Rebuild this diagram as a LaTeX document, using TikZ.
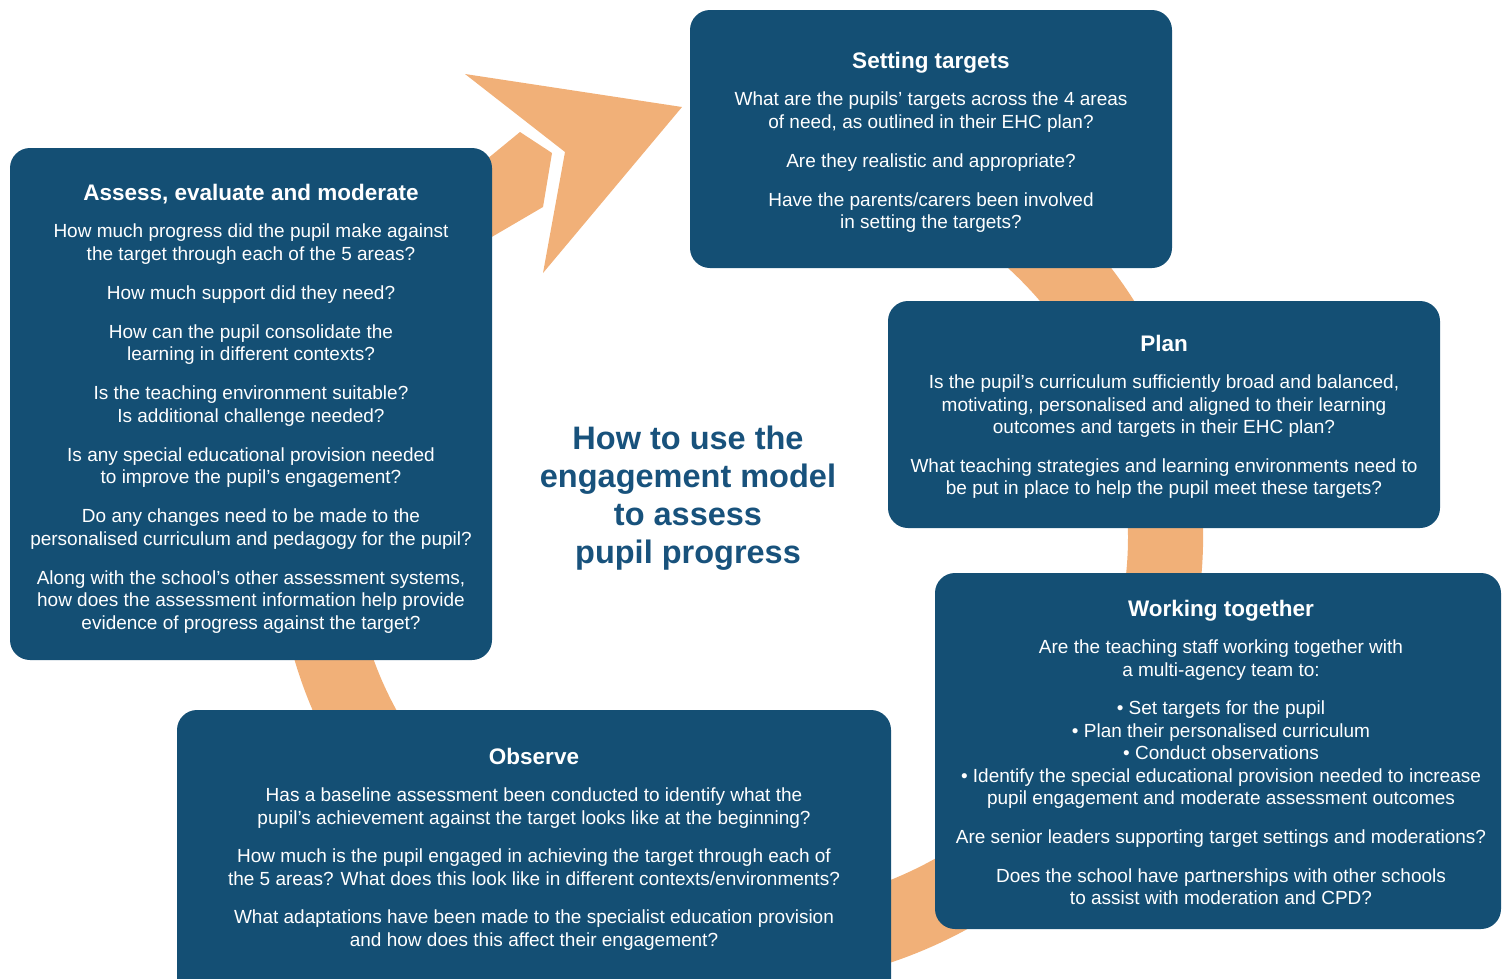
\documentclass[tikz,border=0pt]{standalone}
\usepackage{fontspec}
\setmainfont{Liberation Sans}
\usetikzlibrary{positioning,calc}

\definecolor{boxblue}{RGB}{20,79,116}
\definecolor{ringorange}{RGB}{241,176,120}
\definecolor{titleblue}{RGB}{24,82,124}
\newcommand{\hd}[1]{{\bfseries\fontsize{22.5}{24}\selectfont #1}}

\begin{document}
\begin{tikzpicture}
[x=1pt, y=1pt,
 box/.style={fill=boxblue, rounded corners=20pt, inner sep=0pt},
 txt/.style={text=white, align=center, inner sep=0pt, font=\fontsize{19}{22.5}\selectfont}]

\useasboundingbox (0,0) rectangle (1502,-978);

% the cycle band with its arrow head
\coordinate (c) at (740,-537);
\fill[ringorange] (c) ++(75:463 and 450) arc[start angle=75, end angle=-236, x radius=463, y radius=450]
  -- (520,-132) -- (552,-153) -- (543,-207) -- (490,-238)
  -- ($(c)+(-225:388 and 372)$) arc[start angle=-225, end angle=75, x radius=388, y radius=372] -- cycle;
\fill[ringorange] (465,-74) -- (682,-107) -- (543,-273) -- (565,-152) -- cycle;

\node[box, minimum width=482pt, minimum height=258pt] (set) at (931,-139) {};
\node[box, minimum width=482pt, minimum height=512pt] (ass) at (251,-404) {};
\node[box, minimum width=552pt, minimum height=227pt] (plan) at (1164,-414.5) {};
\node[box, minimum width=566pt, minimum height=356pt] (work) at (1218,-751) {};
\node[box, minimum width=714pt, minimum height=290pt] (obs) at (534,-855) {};

\node[txt, below=42pt of set.north] (settxt) {\hd{Setting targets}\\[15pt]
What are the pupils’ targets across the 4 areas\\
of need, as outlined in their EHC plan?\\[16.5pt]
Are they realistic and appropriate?\\[16.5pt]
Have the parents/carers been involved\\
in setting the targets?};

\node[txt, below=36pt of ass.north] (asstxt) {\hd{Assess, evaluate and moderate}\\[15pt]
How much progress did the pupil make against\\
the target through each of the 5 areas?\\[16.5pt]
How much support did they need?\\[16.5pt]
How can the pupil consolidate the\\
learning in different contexts?\\[16.5pt]
Is the teaching environment suitable?\\
Is additional challenge needed?\\[16.5pt]
Is any special educational provision needed\\
to improve the pupil’s engagement?\\[16.5pt]
Do any changes need to be made to the\\
personalised curriculum and pedagogy for the pupil?\\[16.5pt]
Along with the school’s other assessment systems,\\
how does the assessment information help provide\\
evidence of progress against the target?};

\node[txt, below=34pt of plan.north] (plantxt) {\hd{Plan}\\[15pt]
Is the pupil’s curriculum sufficiently broad and balanced,\\
motivating, personalised and aligned to their learning\\
outcomes and targets in their EHC plan?\\[16pt]
What teaching strategies and learning environments need to\\
be put in place to help the pupil meet these targets?};

\node[txt, below=27pt of work.north, xshift=3pt] (worktxt) {\hd{Working together}\\[15pt]
Are the teaching staff working together with\\
a multi-agency team to:\\[16pt]
• Set targets for the pupil\\
• Plan their personalised curriculum\\
• Conduct observations\\
• Identify the special educational provision needed to increase\\
pupil engagement and moderate assessment outcomes\\[16.5pt]
Are senior leaders supporting target settings and moderations?\\[16pt]
Does the school have partnerships with other schools\\
to assist with moderation and CPD?};

\node[txt, below=38pt of obs.north] (obstxt) {\hd{Observe}\\[15pt]
Has a baseline assessment been conducted to identify what the\\
pupil’s achievement against the target looks like at the beginning?\\[16pt]
How much is the pupil engaged in achieving the target through each of\\
the 5 areas? What does this look like in different contexts/environments?\\[16pt]
What adaptations have been made to the specialist education provision\\
and how does this affect their engagement?};

\node[anchor=north, align=center, inner sep=0pt, text=titleblue,
  font=\bfseries\fontsize{32.5}{38}\selectfont] (title) at (688,-425.4)
  {How to use the\\engagement model\\to assess\\pupil progress};
\end{tikzpicture}
\end{document}
